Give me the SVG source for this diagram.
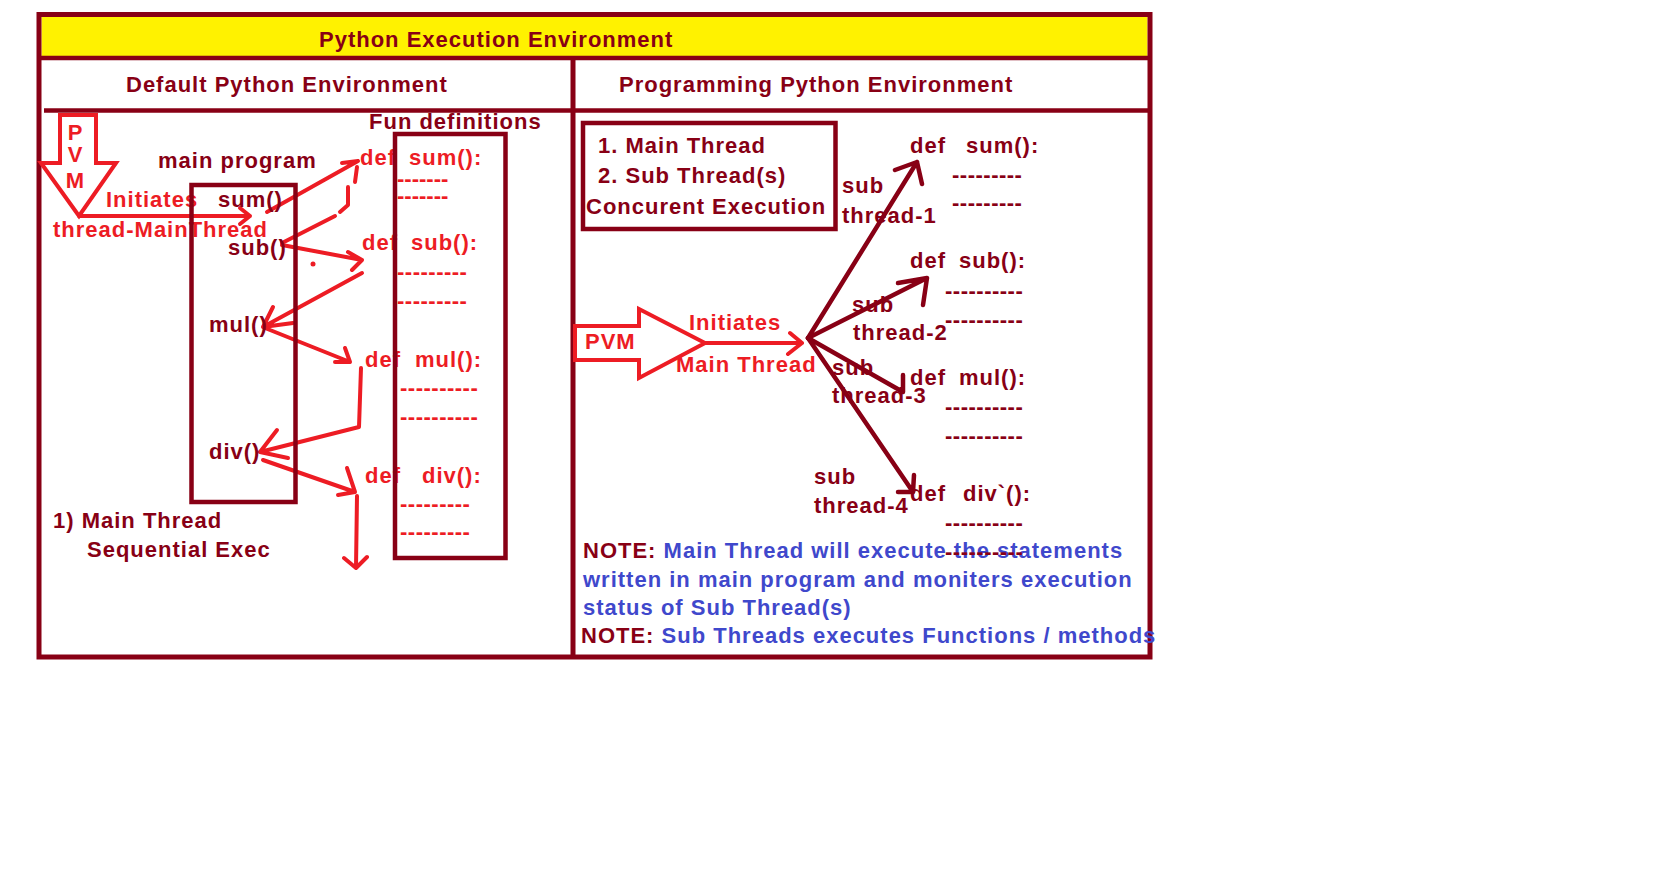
<svg xmlns="http://www.w3.org/2000/svg" width="1676" height="882" viewBox="0 0 1676 882">
<style>
.t{font-family:"Liberation Sans",Arial,sans-serif;font-weight:bold;font-size:22px;letter-spacing:1px}
.dr{fill:#880015}.rd{fill:#ED1C24}.bl{fill:#3F48CC}
.box{fill:none;stroke:#880015;stroke-width:4.5}
.ln{stroke:#880015;stroke-width:4.5;fill:none}
.ra{fill:none;stroke:#ED1C24;stroke-width:4;stroke-linecap:round;stroke-linejoin:round}
.da{fill:none;stroke:#880015;stroke-width:4.5;stroke-linecap:round;stroke-linejoin:round}
.blk{fill:#fff;stroke:#ED1C24;stroke-width:4}
</style>
<rect width="1676" height="882" fill="#fff"/>
<g id="frame">
<rect x="41.5" y="17" width="1106" height="39" fill="#FFF200"/>
<rect x="39" y="14.5" width="1111" height="642.5" class="box" style="stroke-width:5"/>
<line x1="39" y1="58" x2="1150" y2="58" class="ln"/>
<line x1="573" y1="58" x2="573" y2="657" class="ln" style="stroke-width:5"/>
<line x1="44" y1="110.5" x2="1150" y2="110.5" class="ln"/>
<text x="319" y="47" class="t dr">Python Execution Environment</text>
<text x="126" y="92" class="t dr">Default Python Environment</text>
<text x="619" y="92" class="t dr">Programming Python Environment</text>
</g>
<g id="left-labels">
<text x="106" y="207" class="t rd">Initiates</text>
<text x="53" y="237" class="t rd">thread-MainThread</text>
<text x="158" y="168" class="t dr">main program</text>
<text x="369" y="129" class="t dr">Fun definitions</text>
<text x="53" y="528" class="t dr">1) Main Thread</text>
<text x="87" y="557" class="t dr">Sequential Exec</text>
</g>
<g id="right-labels">
<text x="842" y="193" class="t dr">sub</text>
<text x="842" y="223" class="t dr">thread-1</text>
<text x="852" y="312" class="t dr">sub</text>
<text x="853" y="340" class="t dr">thread-2</text>
<text x="832" y="375" class="t dr">sub</text>
<text x="832" y="403" class="t dr">thread-3</text>
<text x="814" y="484" class="t dr">sub</text>
<text x="814" y="513" class="t dr">thread-4</text>
<text x="689" y="330" class="t rd">Initiates</text>
<text x="676" y="372" class="t rd">Main Thread</text>
</g>
<g id="thread-functions">
<text x="910" y="153" class="t dr">def</text><text x="966" y="153" class="t dr">sum():</text>
<text x="952" y="182" class="t dr" style="letter-spacing:0.5px">---------</text>
<text x="952" y="210" class="t dr" style="letter-spacing:0.5px">---------</text>
<text x="910" y="268" class="t dr">def</text><text x="959" y="268" class="t dr">sub():</text>
<text x="945" y="298" class="t dr" style="letter-spacing:0.5px">----------</text>
<text x="945" y="327" class="t dr" style="letter-spacing:0.5px">----------</text>
<text x="910" y="385" class="t dr">def</text><text x="959" y="385" class="t dr">mul():</text>
<text x="945" y="414" class="t dr" style="letter-spacing:0.5px">----------</text>
<text x="945" y="443" class="t dr" style="letter-spacing:0.5px">----------</text>
<text x="910" y="501" class="t dr">def</text><text x="963" y="501" class="t dr">div`():</text>
<text x="945" y="530" class="t dr" style="letter-spacing:0.5px">----------</text>
</g>
<g id="notes">
<text x="583" y="558" class="t"><tspan class="dr">NOTE:</tspan><tspan class="bl"> Main Thread will execute the statements</tspan></text>
<text x="945" y="559" class="t dr" style="letter-spacing:0.5px">----------</text>
<text x="583" y="587" class="t bl">written in main program and moniters execution</text>
<text x="583" y="615" class="t bl">status of Sub Thread(s)</text>
<text x="581" y="643" class="t"><tspan class="dr">NOTE:</tspan><tspan class="bl"> Sub Threads executes Functions / methods</tspan></text>
</g>
<g id="connectors">
<path class="ra" d="M79,216 L250,216 M240,208 L250,216 L240,224"/>
<path class="ra" d="M267,212 L358,161 M342,163 L358,161 M357,167 L355,182"/>
<path class="ra" d="M348,187 L348,205 L340,212 M335,216 L282,243"/>
<path class="ra" d="M282,245 L362,260 M348,252 L362,260 L352,270"/>
<circle cx="313" cy="264" r="2.5" fill="#ED1C24"/>
<path class="ra" d="M362,273 L263,327 M273,307 L263,327 L293,323"/>
<path class="ra" d="M265,328 L350,362 M345,348 L350,362 L335,362"/>
<path class="ra" d="M361,368 L359,427 L260,452 M277,430 L260,452 L288,458"/>
<path class="ra" d="M263,460 L355,492 M347,468 L355,492 L338,495"/>
<path class="ra" d="M357,496 L356,568 M344,558 L356,568 L367,557"/>
<path class="ra" d="M705,343 L802,343 M790,333 L802,343 L788,354"/>
<path class="da" d="M808,338 L917,162 M895,170 L917,162 L922,184"/>
<path class="da" d="M808,338 L927,278 M898,283 L927,278 L923,305"/>
<path class="da" d="M808,338 L903,392 M903,375 L903,392"/>
<path class="da" d="M808,338 L913,492 M914,475 L913,492 L898,492"/>
</g>
<g id="pvm-left">
<polygon class="blk" points="60,115 96,115 96,163 116,163 79,216 41,163 60,163"/>
<text x="75" y="140" class="t rd" text-anchor="middle" style="letter-spacing:0">P</text>
<text x="75" y="162" class="t rd" text-anchor="middle" style="letter-spacing:0">V</text>
<text x="75" y="188" class="t rd" text-anchor="middle" style="letter-spacing:0">M</text>
</g>
<g id="pvm-right">
<polygon class="blk" points="575,326 639,326 639,309 705,343 639,378 639,360 575,360"/>
<text x="585" y="349" class="t rd">PVM</text>
</g>
<g id="main-program">
<text x="218" y="207" class="t dr">sum()</text>
<text x="228" y="255" class="t dr">sub()</text>
<text x="209" y="332" class="t dr">mul()</text>
<text x="209" y="459" class="t dr">div()</text>
<rect x="191.5" y="185" width="104" height="317" class="box"/>
</g>
<g id="fun-definitions">
<text x="360" y="165" class="t rd">def</text><text x="409" y="165" class="t rd">sum():</text>
<text x="397" y="186" class="t rd" style="letter-spacing:0">-------</text>
<text x="397" y="203" class="t rd" style="letter-spacing:0">-------</text>
<text x="362" y="250" class="t rd">def</text><text x="411" y="250" class="t rd">sub():</text>
<text x="397" y="279" class="t rd" style="letter-spacing:0.5px">---------</text>
<text x="397" y="308" class="t rd" style="letter-spacing:0.5px">---------</text>
<text x="365" y="367" class="t rd">def</text><text x="415" y="367" class="t rd">mul():</text>
<text x="400" y="395" class="t rd" style="letter-spacing:0.5px">----------</text>
<text x="400" y="424" class="t rd" style="letter-spacing:0.5px">----------</text>
<text x="365" y="483" class="t rd">def</text><text x="422" y="483" class="t rd">div():</text>
<text x="400" y="511" class="t rd" style="letter-spacing:0.5px">---------</text>
<text x="400" y="539" class="t rd" style="letter-spacing:0.5px">---------</text>
<rect x="395" y="134" width="110.5" height="424" class="box"/>
</g>
<g id="concurrency-box">
<text x="598" y="153" class="t dr">1. Main Thread</text>
<text x="598" y="183" class="t dr">2. Sub Thread(s)</text>
<text x="586" y="214" class="t dr">Concurent Execution</text>
<rect x="583" y="123" width="252.5" height="106" class="box"/>
</g>
</svg>
